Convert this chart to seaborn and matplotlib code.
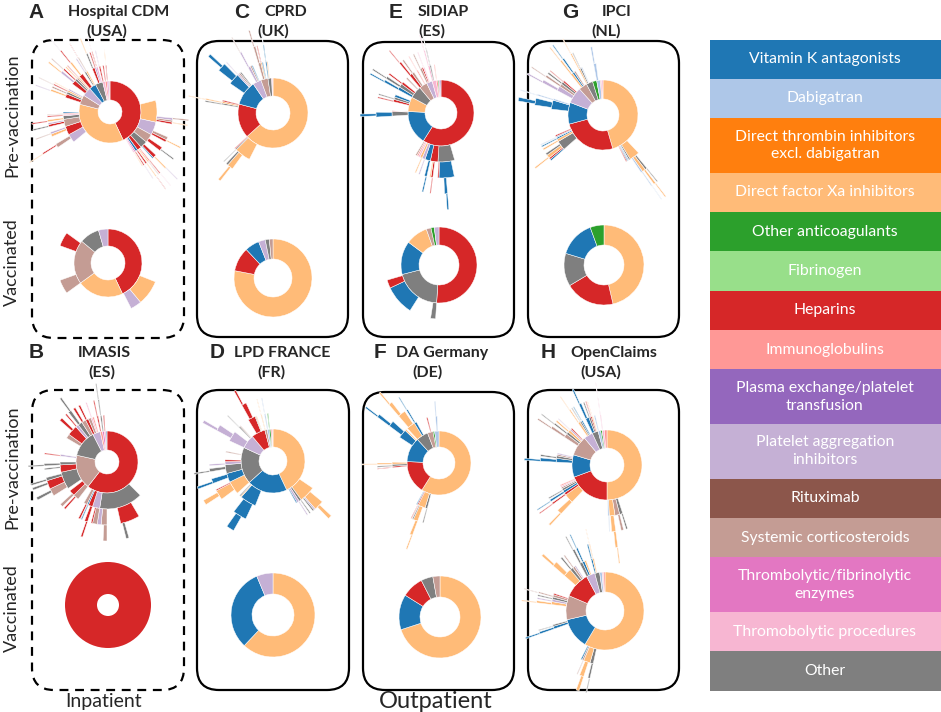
import numpy as np
import matplotlib
matplotlib.use("Agg")
import matplotlib.pyplot as plt
import seaborn as sns
from matplotlib.patches import FancyBboxPatch, Rectangle

# drug classes (keys used in the sequence data) and their legend labels
CATEGORY_KEYS = ["VKA", "DAB", "DTI", "FXA", "OAC", "FIB", "HEP", "IG",
                 "PLX", "PAI", "RTX", "CS", "TLE", "TLP", "OTH"]
CATEGORY_LABELS = ["Vitamin K antagonists", "Dabigatran",
                   "Direct thrombin inhibitors\nexcl. dabigatran",
                   "Direct factor Xa inhibitors", "Other anticoagulants",
                   "Fibrinogen", "Heparins", "Immunoglobulins",
                   "Plasma exchange/platelet\ntransfusion",
                   "Platelet aggregation\ninhibitors", "Rituximab",
                   "Systemic corticosteroids",
                   "Thrombolytic/fibrinolytic\nenzymes",
                   "Thromobolytic procedures", "Other"]

# treatment sequences: (class, % of patients, [next treatment ...]); END = no further treatment
A_PRE = [
    ("HEP", 43, [
        ("END", 21),
        ("FXA", 7.5, [("END", 5.5), ("PAI", 0.6, [("CS", 0.3)]), ("CS", 0.5), ("HEP", 0.5, [("FXA", 0.2)])]),
        ("PAI", 4.5, [("END", 3), ("CS", 0.8), ("HEP", 0.6, [("FXA", 0.3)])]),
        ("CS", 3, [("END", 1.5), ("HEP", 1.0, [("END", 0.5), ("OTH", 0.3)])]),
        ("OTH", 2.5, [("END", 1), ("HEP", 0.9, [("END", 0.4), ("FXA", 0.3, [("PAI", 0.15)])]), ("VKA", 0.3)]),
        ("HEP", 1.5, [("END", 0.5), ("IG", 0.4, [("HEP", 0.2, [("TLP", 0.1)])]), ("FXA", 0.3, [("CS", 0.15)])]),
        ("VKA", 0.8, [("HEP", 0.4, [("FXA", 0.2, [("HEP", 0.1)])])]),
        ("TLE", 0.5, [("HEP", 0.3, [("PAI", 0.15)])]),
        ("TLP", 0.4, [("FXA", 0.2)]),
    ]),
    ("FXA", 36, [
        ("END", 21),
        ("PAI", 3, [("END", 1.5), ("CS", 1, [("END", 0.5), ("HEP", 0.3, [("FXA", 0.15)])])]),
        ("HEP", 3, [("END", 1.6), ("FXA", 0.7), ("PAI", 0.5, [("CS", 0.2)])]),
        ("CS", 2.5, [("END", 1.2), ("HEP", 0.6, [("OTH", 0.3)]), ("PAI", 0.4)]),
        ("OTH", 1.2, [("FXA", 0.5, [("HEP", 0.25)])]),
        ("TLP", 0.5, [("HEP", 0.3)]),
        ("IG", 0.4, [("CS", 0.2)]),
        ("VKA", 0.4),
    ]),
    ("CS", 5, [
        ("END", 1),
        ("HEP", 1.3, [("END", 0.4), ("FXA", 0.5, [("PAI", 0.2)])]),
        ("OTH", 0.8, [("CS", 0.4)]),
        ("FXA", 0.6, [("HEP", 0.3, [("CS", 0.15)])]),
        ("PAI", 0.5, [("FXA", 0.2)]),
    ]),
    ("PAI", 4.7, [
        ("END", 1.2),
        ("HEP", 1.5, [("END", 0.5), ("PAI", 0.6, [("FXA", 0.3)])]),
        ("OTH", 0.8, [("HEP", 0.4, [("CS", 0.2)])]),
        ("CS", 0.6, [("FXA", 0.3)]),
        ("FXA", 0.4, [("HEP", 0.2)]),
    ]),
    ("VKA", 3.6, [
        ("HEP", 1.4, [("END", 0.4), ("FXA", 0.5, [("HEP", 0.25, [("PAI", 0.1)])])]),
        ("END", 0.8),
        ("OTH", 0.6, [("PAI", 0.3)]),
        ("FXA", 0.5, [("CS", 0.25, [("HEP", 0.1)])]),
    ]),
    ("OTH", 3.9, [
        ("END", 1.5),
        ("HEP", 0.9, [("OTH", 0.4, [("FXA", 0.2)])]),
        ("PAI", 0.6, [("HEP", 0.3)]),
        ("TLE", 0.4, [("HEP", 0.2, [("TLP", 0.1)])]),
    ]),
    ("TLP", 1.3, [("HEP", 0.5, [("PAI", 0.2)])]),
    ("IG", 1.0, [("HEP", 0.4)]),
    ("TLE", 0.8, [("HEP", 0.3, [("FXA", 0.15)])]),
    ("PLX", 0.4),
    ("RTX", 0.3),
]
A_VAC = [
    ("HEP", 43, [("END", 31), ("FXA", 8), ("PAI", 3.5)]),
    ("FXA", 22),
    ("CS", 21, [("CS", 4.5), ("END", 11), ("HEP", 4.5)]),
    ("OTH", 9.5),
    ("PAI", 4.5),
]

B_PRE = [
    ("HEP", 60.5, [
        ("END", 37.5),
        ("OTH", 15, [("END", 4), ("HEP", 5, [("END", 4), ("OTH", 0.6)]), ("END", 3.5),
                     ("CS", 1.5, [("CS", 0.8)]), ("PAI", 1)]),
        ("PAI", 2.5, [("CS", 1.2), ("HEP", 0.4)]),
        ("HEP", 1.5, [("HEP", 0.8, [("HEP", 0.4)])]),
        ("VKA", 0.5, [("VKA", 0.3)]),
        ("CS", 1.2, [("HEP", 0.5)]),
    ]),
    ("CS", 18, [
        ("CS", 2, [("END", 1), ("HEP", 0.5)]),
        ("HEP", 2, [("CS", 0.8)]),
        ("END", 1),
        ("OTH", 6, [("END", 0.5), ("CS", 2, [("END", 1), ("OTH", 0.6)]), ("HEP", 2.2, [("END", 1.2), ("OTH", 0.5)]),
                    ("OTH", 0.8, [("OTH", 0.4)])]),
        ("HEP", 2.5, [("END", 1.5), ("OTH", 0.4)]),
        ("OTH", 1, [("OTH", 0.6, [("OTH", 0.3)])]),
        ("END", 2),
        ("PAI", 0.6, [("HEP", 0.3)]),
    ]),
    ("OTH", 14, [
        ("END", 5),
        ("CS", 1.5),
        ("HEP", 3.5, [("END", 1.5), ("HEP", 0.8)]),
        ("PAI", 1, [("HEP", 0.4)]),
        ("OTH", 1.5, [("OTH", 0.8, [("END", 0.3), ("OTH", 0.4)])]),
        ("CS", 1.5, [("HEP", 0.6)]),
    ]),
    ("PAI", 4, [("HEP", 1, [("HEP", 0.5)]), ("CS", 1), ("TLP", 0.5, [("TLP", 0.3)]), ("IG", 0.5)]),
    ("IG", 1.2, [("HEP", 0.5, [("HEP", 0.3)])]),
    ("TLE", 1.0, [("OTH", 0.5, [("OTH", 0.3, [("OTH", 0.2)])])]),
    ("TLP", 0.8, [("HEP", 0.4)]),
    ("VKA", 0.5),
]
B_VAC = [("HEP", 100)]

C_PRE = [
    ("FXA", 63.3, [
        ("END", 57.5),
        ("FXA", 5, [("END", 2.5), ("FXA", 1.4, [("END", 0.5), ("FXA", 0.5)]), ("OTH", 0.5)]),
        ("OTH", 0.4, [("OTH", 0.2)]),
        ("HEP", 0.3),
    ]),
    ("HEP", 15.8, [
        ("END", 14.3),
        ("OTH", 0.5, [("OTH", 0.3)]),
        ("FXA", 0.5, [("FXA", 0.3, [("FXA", 0.15)])]),
        ("HEP", 0.4),
    ]),
    ("VKA", 11.4, [
        ("END", 5.5),
        ("VKA", 3.5, [("END", 1), ("VKA", 2, [("END", 0.8), ("VKA", 0.6)])]),
        ("PAI", 0.5, [("PAI", 0.2)]),
        ("CS", 0.5),
        ("OTH", 0.4),
    ]),
    ("PAI", 3.9, [("END", 1.5), ("PAI", 0.8, [("PAI", 0.4, [("CS", 0.15)])]), ("CS", 0.5), ("VKA", 0.3)]),
    ("CS", 3.3, [("END", 1), ("CS", 0.8, [("CS", 0.5, [("CS", 0.25)])]),
                 ("FXA", 0.4, [("HEP", 0.2)]), ("VKA", 0.3)]),
    ("OTH", 1.7, [("VKA", 0.4, [("VKA", 0.2, [("DAB", 0.1)])]), ("FXA", 0.3)]),
    ("IG", 0.3),
    ("TLE", 0.3),
]
C_VAC = [("FXA", 78), ("HEP", 10), ("VKA", 6), ("PAI", 2.8), ("OTH", 1.7), ("CS", 1.5)]

D_PRE = [
    ("FXA", 43, [
        ("END", 34.5),
        ("FXA", 5.5, [("END", 1.5), ("FXA", 2.5, [("END", 1), ("FXA", 0.8)]), ("PAI", 0.4), ("OTH", 0.4)]),
        ("OTH", 0.8, [("OTH", 0.3)]),
        ("PAI", 0.8, [("PAI", 0.3)]),
        ("VKA", 0.4),
    ]),
    ("VKA", 20.3, [
        ("END", 13),
        ("VKA", 5.5, [("END", 1), ("VKA", 3.5, [("END", 1.2), ("VKA", 1.6)])]),
        ("FXA", 0.4),
        ("OTH", 0.4),
    ]),
    ("OTH", 18.6, [
        ("FXA", 4.5, [("END", 1.5), ("FXA", 2.5, [("END", 1), ("FXA", 1)]), ("HEP", 0.3)]),
        ("VKA", 3, [("END", 1.5), ("VKA", 1.2, [("VKA", 0.5)])]),
        ("OTH", 3, [("END", 1.5), ("OTH", 0.8, [("OTH", 0.3)])]),
        ("PAI", 1, [("PAI", 0.4)]),
        ("HEP", 0.6),
        ("END", 2.5),
        ("CS", 0.4),
    ]),
    ("PAI", 7, [
        ("PAI", 3.5, [("END", 1), ("PAI", 1.6, [("PAI", 0.6)])]),
        ("END", 2),
        ("OTH", 0.5, [("OTH", 0.2)]),
        ("CS", 0.3),
    ]),
    ("HEP", 7, [
        ("END", 2.5),
        ("HEP", 2.5, [("END", 0.5), ("HEP", 1.2, [("HEP", 0.4)])]),
        ("OTH", 0.3),
        ("FXA", 0.3),
    ]),
    ("CS", 1.2, [("FXA", 0.3, [("FXA", 0.15)])]),
    ("DAB", 1, [("DAB", 0.4, [("DAB", 0.2)])]),
    ("OAC", 0.8, [("OAC", 0.3)]),
    ("IG", 0.6),
    ("TLP", 0.5),
]
D_VAC = [("FXA", 62), ("VKA", 31.7), ("PAI", 6.3)]

E_PRE = [
    ("HEP", 59, [
        ("END", 45.5),
        ("OTH", 5.5, [("END", 1.2), ("VKA", 3.8, [("END", 2), ("VKA", 0.6, [("VKA", 0.3)])]),
                      ("HEP", 0.3)]),
        ("HEP", 2.5, [("END", 1), ("HEP", 0.5, [("HEP", 0.2)]), ("FXA", 0.3)]),
        ("VKA", 1.8, [("VKA", 0.6, [("VKA", 0.3)])]),
        ("PAI", 1, [("PAI", 0.3)]),
        ("FXA", 0.8, [("FXA", 0.3)]),
        ("TLP", 0.6),
        ("IG", 0.5),
        ("CS", 0.5),
    ]),
    ("VKA", 16.7, [
        ("END", 15),
        ("OTH", 1.5, [("VKA", 1.2, [("END", 0.3), ("VKA", 0.5)])]),
        ("HEP", 0.2),
    ]),
    ("FXA", 7.2, [("END", 3), ("HEP", 0.8, [("HEP", 0.3)]), ("OTH", 0.8, [("OTH", 0.3)]), ("VKA", 0.8)]),
    ("OTH", 6, [
        ("VKA", 1, [("VKA", 0.6, [("VKA", 0.3)])]),
        ("OTH", 1.2, [("OTH", 0.6, [("OTH", 0.3)])]),
        ("HEP", 0.8, [("HEP", 0.4)]),
        ("END", 1.5),
        ("CS", 0.5),
    ]),
    ("CS", 4, [("HEP", 1, [("HEP", 0.5, [("HEP", 0.2)])]), ("CS", 0.8, [("CS", 0.4)]), ("END", 1),
               ("IG", 0.4, [("IG", 0.2)])]),
    ("PAI", 2.8, [("CS", 0.7, [("CS", 0.3)]), ("HEP", 0.5), ("TLP", 0.4, [("TLP", 0.2)])]),
    ("TLP", 2, [("TLP", 0.6, [("TLP", 0.3, [("TLP", 0.15)])]), ("OTH", 0.4, [("OTH", 0.2, [("OTH", 0.1)])])]),
    ("IG", 0.8, [("IG", 0.3)]),
    ("OAC", 0.5),
    ("TLE", 0.5),
    ("PLX", 0.5),
]
E_VAC = [
    ("HEP", 51),
    ("OTH", 20, [("OTH", 1.5), ("END", 6.5), ("VKA", 9), ("HEP", 2.5)]),
    ("VKA", 14.2),
    ("FXA", 9.4),
    ("CS", 2),
    ("OAC", 1.4),
    ("PAI", 2),
]

F_PRE = [
    ("FXA", 59, [
        ("END", 54),
        ("OTH", 0.8, [("OTH", 0.3)]),
        ("FXA", 2.5, [("END", 0.8), ("FXA", 1.2, [("FXA", 0.6, [("FXA", 0.25)])]), ("OTH", 0.3)]),
        ("HEP", 0.4, [("HEP", 0.2)]),
        ("VKA", 0.3),
    ]),
    ("HEP", 16.7, [
        ("END", 14.4),
        ("HEP", 0.5, [("HEP", 0.2)]),
        ("OTH", 0.7, [("OTH", 0.3)]),
        ("FXA", 0.7, [("FXA", 0.4, [("FXA", 0.2)])]),
    ]),
    ("VKA", 12.5, [
        ("END", 8.5),
        ("VKA", 3, [("END", 1), ("VKA", 1.5, [("VKA", 0.7, [("VKA", 0.3)])])]),
        ("FXA", 0.5),
    ]),
    ("OTH", 6, [
        ("FXA", 3, [("END", 0.5), ("FXA", 2, [("FXA", 0.8, [("FXA", 0.3)])])]),
        ("VKA", 0.8, [("VKA", 0.4, [("VKA", 0.2)])]),
    ]),
    ("CS", 2.8, [("END", 1.5), ("HEP", 0.4)]),
    ("OAC", 0.8),
    ("DAB", 2.2, [("END", 1), ("DAB", 0.6, [("DAB", 0.3)])]),
]
F_VAC = [("FXA", 70), ("VKA", 13.9), ("HEP", 8.6), ("OTH", 4.7), ("CS", 2.8)]

G_PRE = [
    ("FXA", 45.5, [
        ("END", 38),
        ("FXA", 3.2, [("END", 1), ("OTH", 0.5, [("OTH", 0.2)]), ("FXA", 0.8, [("FXA", 0.4, [("FXA", 0.2)])]),
                      ("DAB", 0.4, [("DAB", 0.2, [("DAB", 0.1)])])]),
        ("OTH", 0.5),
        ("DAB", 0.4),
        ("VKA", 0.3),
        ("HEP", 0.3),
    ]),
    ("HEP", 25.3, [
        ("END", 18),
        ("OTH", 3, [("VKA", 0.4), ("HEP", 0.4), ("FXA", 0.8, [("FXA", 0.3)]), ("OTH", 0.5)]),
        ("FXA", 0.8, [("FXA", 0.4)]),
        ("VKA", 0.5, [("VKA", 0.3)]),
        ("DAB", 0.4, [("DAB", 0.2)]),
        ("HEP", 0.4),
    ]),
    ("VKA", 10, [
        ("END", 6),
        ("VKA", 2.8, [("END", 0.5), ("VKA", 1.6, [("END", 0.3), ("VKA", 0.7)])]),
        ("DAB", 0.5, [("DAB", 0.3, [("DAB", 0.15)])]),
    ]),
    ("PAI", 7.5, [
        ("END", 2),
        ("PAI", 1.5, [("PAI", 0.7, [("PAI", 0.3)])]),
        ("CS", 0.9, [("CS", 0.5, [("CS", 0.2)])]),
        ("OTH", 0.8, [("OTH", 0.4)]),
        ("HEP", 0.5, [("HEP", 0.2)]),
    ]),
    ("CS", 3.9, [("END", 1), ("FXA", 0.7, [("FXA", 0.4, [("FXA", 0.2)])]),
                 ("VKA", 0.6, [("VKA", 0.4, [("VKA", 0.2)])]), ("CS", 0.5)]),
    ("OTH", 3, [("FXA", 0.5, [("FXA", 0.3, [("FXA", 0.15)])]), ("OTH", 0.5, [("OTH", 0.2)]), ("DAB", 0.3)]),
    ("OAC", 1.9),
    ("DAB", 1.7, [("DAB", 0.8, [("DAB", 0.4)])]),
    ("IG", 0.6),
    ("TLP", 0.6),
]
G_VAC = [("FXA", 46.4), ("HEP", 20), ("OTH", 13.3), ("VKA", 14.7), ("OAC", 5.6)]

H_PRE = [
    ("FXA", 50, [
        ("END", 45),
        ("OTH", 1, [("OTH", 0.4)]),
        ("CS", 1.5, [("CS", 0.6)]),
        ("FXA", 1.8, [("END", 0.4), ("FXA", 1.0, [("FXA", 0.5, [("FXA", 0.2)])])]),
        ("DAB", 0.4, [("DAB", 0.2)]),
    ]),
    ("HEP", 19.4, [
        ("END", 12),
        ("FXA", 3, [("FXA", 1.2, [("FXA", 0.4)])]),
        ("HEP", 0.8, [("HEP", 0.4, [("HEP", 0.2)])]),
        ("VKA", 0.8, [("VKA", 0.5, [("VKA", 0.2)])]),
        ("OTH", 0.7, [("OTH", 0.3)]),
        ("CS", 0.5),
        ("TLP", 0.4),
        ("IG", 0.4),
    ]),
    ("VKA", 10.3, [
        ("END", 6.5),
        ("VKA", 1.2, [("VKA", 0.8, [("VKA", 0.4)])]),
        ("OTH", 0.8, [("OTH", 0.4)]),
        ("CS", 0.5),
        ("PAI", 0.4),
    ]),
    ("CS", 9.2, [
        ("END", 4.5),
        ("CS", 1.2, [("CS", 0.6, [("CS", 0.3)])]),
        ("OTH", 0.8, [("OTH", 0.4, [("OTH", 0.2)])]),
        ("FXA", 0.8, [("FXA", 0.4)]),
        ("PAI", 0.5, [("PAI", 0.2)]),
        ("HEP", 0.4),
    ]),
    ("PAI", 4.2, [("END", 1.5), ("FXA", 0.7, [("FXA", 0.3, [("FXA", 0.15)])]), ("OTH", 0.5, [("OTH", 0.2)]),
                  ("VKA", 0.4, [("VKA", 0.2)])]),
    ("OTH", 2.8, [("VKA", 1.1, [("VKA", 0.6, [("VKA", 0.3)])]), ("OTH", 0.6, [("OTH", 0.3)]),
                  ("HEP", 0.4, [("HEP", 0.2)]), ("FXA", 0.3, [("FXA", 0.15)])]),
    ("DAB", 1.2, [("DAB", 0.4)]),
    ("OAC", 0.7),
    ("TLP", 1, [("TLP", 0.3, [("TLP", 0.15, [("TLP", 0.08)])])]),
    ("IG", 1.2),
]
H_VAC = [
    ("FXA", 58.6, [
        ("END", 53.5),
        ("OTH", 1, [("OTH", 0.5, [("OTH", 0.2)])]),
        ("FXA", 2, [("END", 0.5), ("FXA", 1.0, [("FXA", 0.6)])]),
        ("CS", 0.5, [("CS", 0.2)]),
        ("VKA", 0.4),
    ]),
    ("VKA", 12.8, [("END", 11), ("VKA", 0.8, [("VKA", 0.5, [("VKA", 0.3)])]),
                   ("OTH", 0.5, [("OTH", 0.2)])]),
    ("CS", 10, [("END", 5.5), ("FXA", 0.9, [("FXA", 0.5, [("FXA", 0.2)])]), ("PAI", 0.7, [("PAI", 0.3)]),
                ("OTH", 0.7, [("OTH", 0.3)]), ("CS", 0.7, [("CS", 0.3, [("CS", 0.15)])]), ("HEP", 0.4)]),
    ("HEP", 10.8, [("END", 5), ("FXA", 2.5, [("FXA", 1.2, [("FXA", 0.5)])]), ("OTH", 0.9, [("OTH", 0.4)]),
                   ("CS", 0.7, [("CS", 0.3)]), ("PAI", 0.4)]),
    ("PAI", 3.6, [("OTH", 0.9, [("OTH", 0.5, [("OTH", 0.2)])]), ("VKA", 0.7, [("VKA", 0.4, [("VKA", 0.2)])]),
                  ("FXA", 0.5)]),
    ("OTH", 2, [("VKA", 0.5, [("VKA", 0.3)]), ("FXA", 0.4, [("FXA", 0.2, [("FXA", 0.1)])])]),
    ("DAB", 1),
    ("TLP", 0.6),
    ("IG", 0.6),
]

PANEL_LETTERS = ["A", "B", "C", "D", "E", "F", "G", "H"]
PANEL_NAMES = ["Hospital CDM", "IMASIS", "CPRD", "LPD FRANCE", "SIDIAP", "DA Germany", "IPCI", "OpenClaims"]
PANEL_COUNTRIES = ["(USA)", "(ES)", "(UK)", "(FR)", "(ES)", "(DE)", "(NL)", "(USA)"]
PANEL_DATA = [(A_PRE, A_VAC), (B_PRE, B_VAC), (C_PRE, C_VAC), (D_PRE, D_VAC),
              (E_PRE, E_VAC), (F_PRE, F_VAC), (G_PRE, G_VAC), (H_PRE, H_VAC)]

# ---- layout (pixels) ----
W, H = 941, 712
# box x0, y0, x1, y1, dashed
BOXES = [(32, 40, 184, 338, True), (32, 390, 184, 690, True),
         (197, 41, 348, 337, False), (197, 390, 349, 690, False),
         (363, 42, 514, 337, False), (363, 392, 514, 690, False),
         (528, 41, 679, 337, False), (528, 390, 679, 690, False)]
# letter x, name x, country x, top y
TITLES = [(36, 119, 107, 12), (36, 104, 102, 353), (242, 286, 273, 12), (217, 282, 271, 353),
          (396, 443, 432, 12), (380, 442, 428, 353), (570, 617, 606, 12), (548, 614, 601, 353)]
# centre x, centre y, hole radius, first ring width, outer ring width  (pre, vaccinated)
CHART_POS = [
    [(110, 112, 12, 19, 16), (108, 263, 17, 17, 17)],
    [(107, 462, 12, 19, 16), (108, 605, 11, 32, 32)],
    [(273, 113, 17, 18, 17), (273, 278, 19, 20, 20)],
    [(273, 461, 14, 18, 16), (273, 615, 21, 21, 21)],
    [(441, 113, 16, 17, 16), (439, 265, 20, 18, 16)],
    [(439, 463, 16, 16, 15), (440, 617, 20, 21, 21)],
    [(603, 115, 16, 19, 17), (604, 265, 20, 20, 20)],
    [(607, 465, 17, 18, 16), (605, 611, 19, 20, 15)],
]

sns.set_theme(style="white")
plt.rcParams["font.family"] = ["Lato", "DejaVu Sans"]
palette = dict(zip(CATEGORY_KEYS, sns.color_palette("tab20", 15)))


def flatten(nodes, start, level, out):
    pos = start
    for node in nodes:
        cat, val = node[0], node[1]
        if cat != "END" and val > 0:
            out.append((pos, val, level, cat))
            if len(node) > 2:
                flatten(node[2], pos, level + 1, out)
        pos += val
    return out


def draw_sunburst(fig, nodes, cx, cy, hole, ring, outer):
    half = 110
    ax = fig.add_axes([(cx - half) / W, 1 - (cy + half) / H, 2 * half / W, 2 * half / H],
                      projection="polar")
    ax.set_theta_zero_location("N")
    ax.set_theta_direction(-1)
    segs = flatten(nodes, 0.0, 1, [])
    start = np.array([s[0] for s in segs])
    val = np.array([s[1] for s in segs])
    level = np.array([s[2] for s in segs])
    cols = [palette[s[3]] for s in segs]
    theta = np.deg2rad((start + val / 2) * 3.6)
    width = np.deg2rad(val * 3.6)
    bottom = np.where(level == 1, hole, hole + ring + (level - 2) * outer)
    height = np.where(level == 1, ring, outer)
    lw = np.where(val >= 99.9, 0.0, 0.35)
    ax.bar(theta, height, width=width, bottom=bottom, color=cols,
           edgecolor="white", linewidth=lw, align="center")
    ax.set_ylim(0, half)
    ax.set_axis_off()


fig = plt.figure(figsize=(W / 100, H / 100), dpi=100)
bg = fig.add_axes([0, 0, 1, 1])
bg.set_xlim(0, W)
bg.set_ylim(H, 0)
bg.set_axis_off()

for (x0, y0, x1, y1, dashed), (lx, nx, cxx, ty), letter, name, country in zip(
        BOXES, TITLES, PANEL_LETTERS, PANEL_NAMES, PANEL_COUNTRIES):
    bg.add_patch(FancyBboxPatch((x0, y0), x1 - x0, y1 - y0,
                                boxstyle="round,pad=0,rounding_size=22",
                                fill=False, edgecolor="black", linewidth=1.6,
                                linestyle=(0, (4, 3)) if dashed else "-"))
    bg.text(lx, ty, letter, fontsize=15, fontweight="bold", ha="center", va="center",
            family=["Liberation Sans", "DejaVu Sans"])
    bg.text(nx, ty, name, fontsize=11.5, fontweight="bold", ha="center", va="center")
    bg.text(cxx, ty + 19, country, fontsize=11.5, fontweight="bold", ha="center", va="center")

for (pre, vac), (p_pre, p_vac) in zip(PANEL_DATA, CHART_POS):
    draw_sunburst(fig, pre, *p_pre)
    draw_sunburst(fig, vac, *p_vac)

for y in (115, 467):
    bg.text(12, y, "Pre-vaccination", rotation=90, fontsize=13, ha="center", va="center")
for y in (262, 608):
    bg.text(12, y, "Vaccinated", rotation=90, fontsize=13, ha="center", va="center")
bg.text(104, 701, "Inpatient", fontsize=14, ha="center", va="center")
bg.text(436, 701, "Outpatient", fontsize=17, ha="center", va="center")

# colour key on the right
y = 39.5
for key, label in zip(CATEGORY_KEYS, CATEGORY_LABELS):
    h = 54.7 if "\n" in label else 39.3
    bg.add_patch(Rectangle((710, y), 231, h, facecolor=palette[key], edgecolor="none"))
    bg.text(825, y + h / 2, label, color="white", fontsize=11.3, ha="center", va="center",
            linespacing=1.35)
    y += h

fig.savefig("out.png", dpi=100)
